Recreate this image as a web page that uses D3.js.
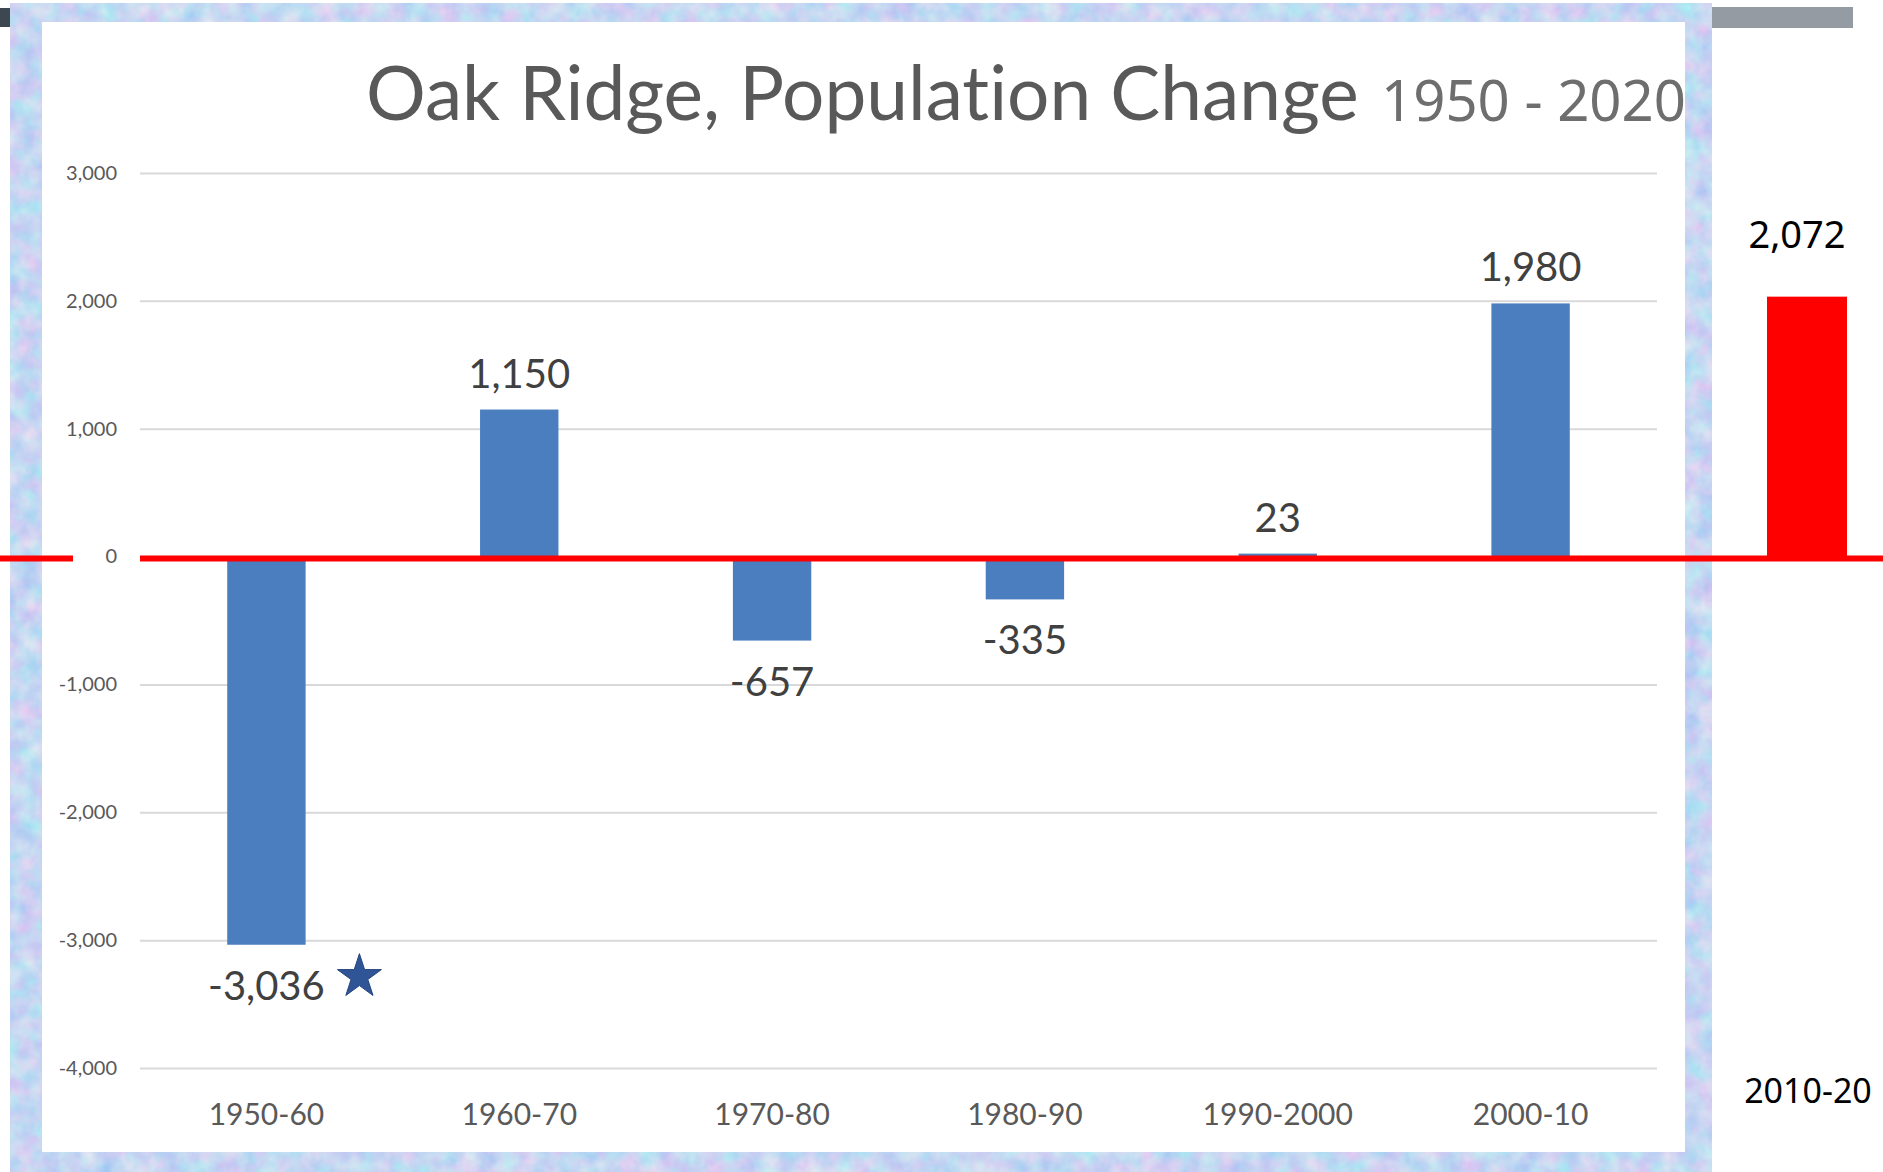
<!DOCTYPE html>
<html>
<head>
<meta charset="utf-8">
<script src="https://cdn.jsdelivr.net/npm/d3@7"></script>
<style>
  body { margin: 0; background: #fff; }
  svg { display: block; }
  text { font-variant-ligatures: none; }
</style>
</head>
<body>
<div id="chart"></div>
<script>
// Oak Ridge population change per decade
var categories = ["1950-60", "1960-70", "1970-80", "1980-90", "1990-2000", "2000-10"];
var changes = [-3036, 1150, -657, -335, 23, 1980];

// the pasted-on decade at the right, outside the chart frame
var extraCategories = ["2010-20"];
var extraChanges = [2072];

var yTicks = [3000, 2000, 1000, 0, -1000, -2000, -3000, -4000];

var width = 1883, height = 1172;

// plain hyphen for negatives, like the original
var locale = d3.formatLocale({decimal: ".", thousands: ",", grouping: [3], currency: ["$", ""], minus: "-"});
var fmt = locale.format(",");

var svg = d3.select("#chart").append("svg")
    .attr("width", width)
    .attr("height", height);

// mottled light blue frame texture
var defs = svg.append("defs");
var filt = defs.append("filter")
    .attr("id", "mottle")
    .attr("color-interpolation-filters", "sRGB")
    .attr("x", 0).attr("y", 0).attr("width", "100%").attr("height", "100%");
filt.append("feTurbulence")
    .attr("type", "fractalNoise")
    .attr("baseFrequency", 0.05)
    .attr("numOctaves", 3)
    .attr("seed", 7)
    .attr("result", "noise");
filt.append("feColorMatrix")
    .attr("in", "noise")
    .attr("type", "matrix")
    .attr("values", "0.35 0 0 0 0.6  0 0.22 0 0 0.73  0 0 0 0 0.95  0 0 0 0 1");

// frame pieces
svg.append("rect")
    .attr("x", 0).attr("y", 8).attr("width", 10).attr("height", 19)
    .attr("fill", "#3d474f");
svg.append("rect")
    .attr("x", 1712).attr("y", 7).attr("width", 141).attr("height", 21)
    .attr("fill", "#959ba2");
svg.append("rect")
    .attr("x", 10).attr("y", 3).attr("width", 1702).attr("height", 1169)
    .attr("fill", "#c3d5f1")
    .attr("filter", "url(#mottle)");
svg.append("rect")
    .attr("x", 42).attr("y", 22).attr("width", 1643).attr("height", 1130)
    .attr("fill", "#ffffff");

// scales
var y = d3.scaleLinear()
    .domain([-4000, 3000])
    .range([1068, 173]);

var x = d3.scaleBand()
    .domain(categories)
    .range([140, 1657])
    .paddingInner(0.69)
    .paddingOuter(0.345);

var xExtra = d3.scaleBand()
    .domain(extraCategories)
    .range([1727, 1887])
    .paddingInner(0.5)
    .paddingOuter(0.25);

// gridlines + y tick labels
var yAxis = d3.axisLeft(y)
    .tickValues(yTicks)
    .tickSize(-(1657 - 140))
    .tickPadding(23)
    .tickFormat(fmt);

var gy = svg.append("g")
    .attr("transform", "translate(140,0)")
    .call(yAxis);
gy.select(".domain").remove();
gy.selectAll(".tick line")
    .attr("stroke", "#d9d9d9")
    .attr("stroke-width", 2);
gy.selectAll(".tick text")
    .attr("fill", "#595959")
    .style("font-family", "Lato, 'Open Sans', sans-serif")
    .style("font-size", "20px");

// x category labels
var xAxis = d3.axisBottom(x).tickSize(0).tickPadding(0);
var gx = svg.append("g")
    .attr("transform", "translate(0,1100)")
    .call(xAxis);
gx.select(".domain").remove();
gx.selectAll(".tick text")
    .attr("fill", "#595959")
    .attr("dy", 0)
    .attr("y", 25)
    .style("font-family", "Lato, 'Open Sans', sans-serif")
    .style("font-size", "30px");

// bars
svg.selectAll("rect.bar")
    .data(categories)
  .enter().append("rect")
    .attr("class", "bar")
    .attr("x", function(d) { return x(d); })
    .attr("width", x.bandwidth())
    .attr("y", function(d, i) { return y(Math.max(0, changes[i])); })
    .attr("height", function(d, i) { return Math.abs(y(changes[i]) - y(0)); })
    .attr("fill", "#4a7ebf");

// value labels
svg.selectAll("text.value")
    .data(categories)
  .enter().append("text")
    .attr("class", "value")
    .attr("x", function(d) { return x(d) + x.bandwidth() / 2; })
    .attr("y", function(d, i) {
        return changes[i] >= 0 ? y(changes[i]) - 22 : y(changes[i]) + 55;
    })
    .attr("text-anchor", "middle")
    .attr("fill", "#404040")
    .style("font-family", "Lato, 'Open Sans', sans-serif")
    .style("font-size", "40px")
    .text(function(d, i) { return fmt(changes[i]); });

// star next to the 1950-60 label
svg.append("path")
    .attr("d", d3.symbol(d3.symbolStar).size(600)())
    .attr("transform", "translate(" + (x(categories[0]) + x.bandwidth() / 2 + 93) + "," + (y(changes[0]) + 32) + ")")
    .attr("fill", "#2f5597")
    .attr("stroke", "#24457e")
    .attr("stroke-width", 1);

// extra red bar for 2010-20
svg.selectAll("rect.extra")
    .data(extraCategories)
  .enter().append("rect")
    .attr("class", "extra")
    .attr("x", function(d) { return xExtra(d); })
    .attr("width", xExtra.bandwidth())
    .attr("y", function(d, i) { return y(extraChanges[i]) + 5; })
    .attr("height", function(d, i) { return y(0) - y(extraChanges[i]) - 5; })
    .attr("fill", "#ff0000");

svg.selectAll("text.extraValue")
    .data(extraCategories)
  .enter().append("text")
    .attr("class", "extraValue")
    .attr("x", function(d) { return xExtra(d) + xExtra.bandwidth() / 2 - 10; })
    .attr("y", function(d, i) { return y(extraChanges[i]) - 44; })
    .attr("text-anchor", "middle")
    .attr("fill", "#000")
    .style("font-family", "'Noto Sans', Lato, sans-serif")
    .style("font-size", "38px")
    .text(function(d, i) { return fmt(extraChanges[i]); });

svg.selectAll("text.extraCat")
    .data(extraCategories)
  .enter().append("text")
    .attr("class", "extraCat")
    .attr("x", function(d) { return xExtra(d) + xExtra.bandwidth() / 2 + 1; })
    .attr("y", 1103)
    .attr("text-anchor", "middle")
    .attr("fill", "#000")
    .style("font-family", "'Noto Sans', Lato, sans-serif")
    .style("font-size", "34px")
    .text(function(d) { return d; });

// red zero line, broken around the "0" tick label
var zeroLine = [[0, 73], [140, width]];
svg.selectAll("line.zero")
    .data(zeroLine)
  .enter().append("line")
    .attr("class", "zero")
    .attr("x1", function(d) { return d[0]; })
    .attr("x2", function(d) { return d[1]; })
    .attr("y1", y(0) + 2)
    .attr("y2", y(0) + 2)
    .attr("stroke", "#ff0000")
    .attr("stroke-width", 6);

// title in two pieces, each fitted to its width in the picture
function fitText(sel, targetWidth) {
    var w = sel.node().getComputedTextLength();
    var fs = parseFloat(sel.style("font-size"));
    sel.style("font-size", (fs * targetWidth / w) + "px");
}

var t1 = svg.append("text")
    .attr("x", 366)
    .attr("y", 120)
    .attr("fill", "#595959")
    .style("font-family", "Lato, 'Open Sans', sans-serif")
    .style("font-size", "70px")
    .text("Oak Ridge, Population Change");
fitText(t1, 993);

var t2 = svg.append("text")
    .attr("x", 1381)
    .attr("y", 121)
    .attr("fill", "#6e6e6e")
    .style("font-family", "'Noto Sans', Lato, sans-serif")
    .style("font-size", "60px")
    .text("1950 - 2020");
fitText(t2, 305);
</script>
</body>
</html>
